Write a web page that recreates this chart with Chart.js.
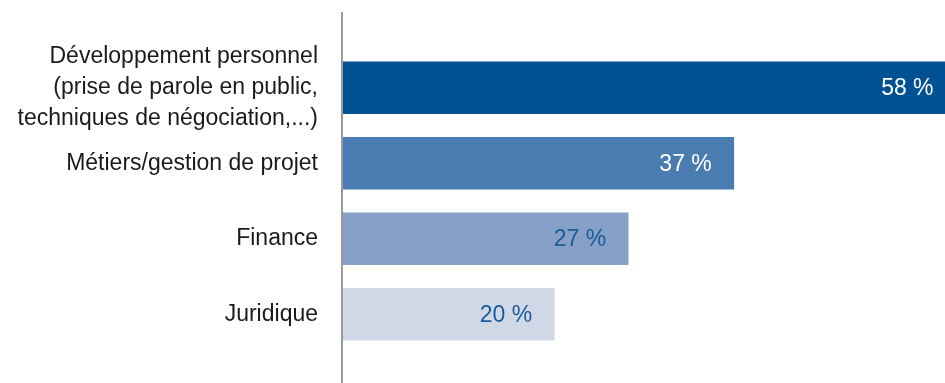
<!DOCTYPE html>
<html lang="fr">
<head>
<meta charset="utf-8">
<title>Formations souhaitées</title>
<script src="https://cdn.jsdelivr.net/npm/chart.js@4.4.1/dist/chart.umd.min.js"></script>
<style>
  html, body { margin: 0; padding: 0; background: #fff; }
  #wrap { position: relative; width: 945px; height: 383px; }
</style>
</head>
<body>
<div id="wrap"><canvas id="chartFormations"></canvas></div>
<script>
// Catégories (une ligne par entrée pour les libellés multi-lignes)
const categories = [
  ['Développement personnel', '(prise de parole en public,', 'techniques de négociation,...)'],
  ['Métiers/gestion de projet'],
  ['Finance'],
  ['Juridique']
];
const valeurs = [58, 37, 27, 20];
const couleursBarres = ['#005193', '#4b7cb1', '#86a0c8', '#d0d8e8'];
const couleursTexte = ['#ffffff', '#ffffff', '#1b5b9b', '#1b5b9b'];

const FONT = '"Liberation Sans", Arial, Helvetica, sans-serif';

// Etiquettes de valeur à l'intérieur des barres, alignées à droite
const etiquettesValeurs = {
  id: 'etiquettesValeurs',
  afterDatasetsDraw(chart) {
    const ctx = chart.ctx;
    const meta = chart.getDatasetMeta(0);
    ctx.save();
    ctx.font = '23px ' + FONT;
    ctx.textAlign = 'right';
    ctx.textBaseline = 'middle';
    meta.data.forEach((bar, i) => {
      ctx.fillStyle = couleursTexte[i];
      ctx.fillText(valeurs[i] + ' %', bar.x - 22, bar.y + 1);
    });
    ctx.restore();
  }
};

// Trait vertical de l'axe, sur toute la hauteur
const axeVertical = {
  id: 'axeVertical',
  afterDraw(chart) {
    const ctx = chart.ctx;
    const x = chart.scales.x.left - 1;
    ctx.save();
    ctx.strokeStyle = '#9a9a9a';
    ctx.lineWidth = 2;
    ctx.beginPath();
    ctx.moveTo(x, 12);
    ctx.lineTo(x, chart.height);
    ctx.stroke();
    ctx.restore();
  }
};

new Chart(document.getElementById('chartFormations'), {
  type: 'bar',
  data: {
    labels: categories,
    datasets: [{
      data: valeurs,
      backgroundColor: couleursBarres,
      borderWidth: 0,
      barThickness: 52
    }]
  },
  options: {
    indexAxis: 'y',
    responsive: true,
    maintainAspectRatio: false,
    animation: false,
    layout: { padding: { top: 50, bottom: 31, left: 0, right: 0 } },
    plugins: {
      legend: { display: false },
      tooltip: { enabled: false }
    },
    scales: {
      x: {
        display: false,
        min: 0,
        max: 57
      },
      y: {
        afterFit(scale) {
          scale.width = 343;
          scale.paddingTop = 0;
          scale.paddingBottom = 0;
        },
        grid: { display: false },
        border: { display: false },
        ticks: {
          autoSkip: false,
          color: '#1a1a1a',
          padding: 17,
          font: { family: FONT, size: 23, lineHeight: 1.35 }
        }
      }
    }
  },
  plugins: [etiquettesValeurs, axeVertical]
});
</script>
</body>
</html>
